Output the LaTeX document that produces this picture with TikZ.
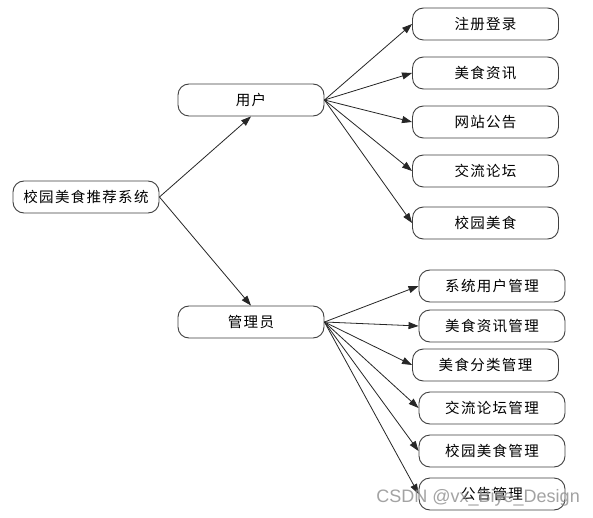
\documentclass[tikz,border=0pt]{standalone}
\usepackage{fontspec}
\newfontfamily\cjk{Noto Sans CJK SC}[LetterSpace=9]
\newfontfamily\wmfont{Liberation Sans}
\usetikzlibrary{arrows.meta}
\begin{document}
\begin{tikzpicture}[x=1pt,y=-1pt,
  box/.style={draw=black!75, line width=0.9pt, rounded corners=11pt,
    minimum width=146pt, minimum height=32pt, inner sep=0pt, fill=white,
    font=\cjk\fontsize{14.5}{16}\selectfont},
  link/.style={draw=black!85, line width=0.8pt, -{Triangle[length=10pt,width=7pt]}}]
\useasboundingbox[fill=white] (0,0) rectangle (593,518);

\node[box] (root) at (86,197) {校园美食推荐系统};
\node[box] (user) at (251,100) {用户};
\node[box] (admin) at (251,322) {管理员};

\node[box] (u1) at (485.5,24) {注册登录};
\node[box] (u2) at (485.5,73) {美食资讯};
\node[box] (u3) at (485.5,122) {网站公告};
\node[box] (u4) at (485.5,171) {交流论坛};
\node[box] (u5) at (485.5,223) {校园美食};

\node[box] (a1) at (492,286) {系统用户管理};
\node[box] (a2) at (492,326) {美食资讯管理};
\node[box] (a3) at (485.5,365) {美食分类管理};
\node[box] (a4) at (492,408) {交流论坛管理};
\node[box] (a5) at (492,451) {校园美食管理};
\node[box] (a6) at (492,494) {公告管理};

\draw[link] (root.east) -- (user.south);
\draw[link] (root.east) -- (admin.north);
\foreach \c in {u1,u2,u3,u4,u5} \draw[link] (user.east) -- (\c.west);
\foreach \c in {a1,a2,a3,a4,a5,a6} \draw[link] (admin.east) -- (\c.west);

\node[text=black!45, opacity=0.8, font=\wmfont\fontsize{18}{20}\selectfont, anchor=east, inner sep=0pt] (wm) at (580,498) {CSDN @vx\_Biye\_Design};
\end{tikzpicture}
\end{document}
